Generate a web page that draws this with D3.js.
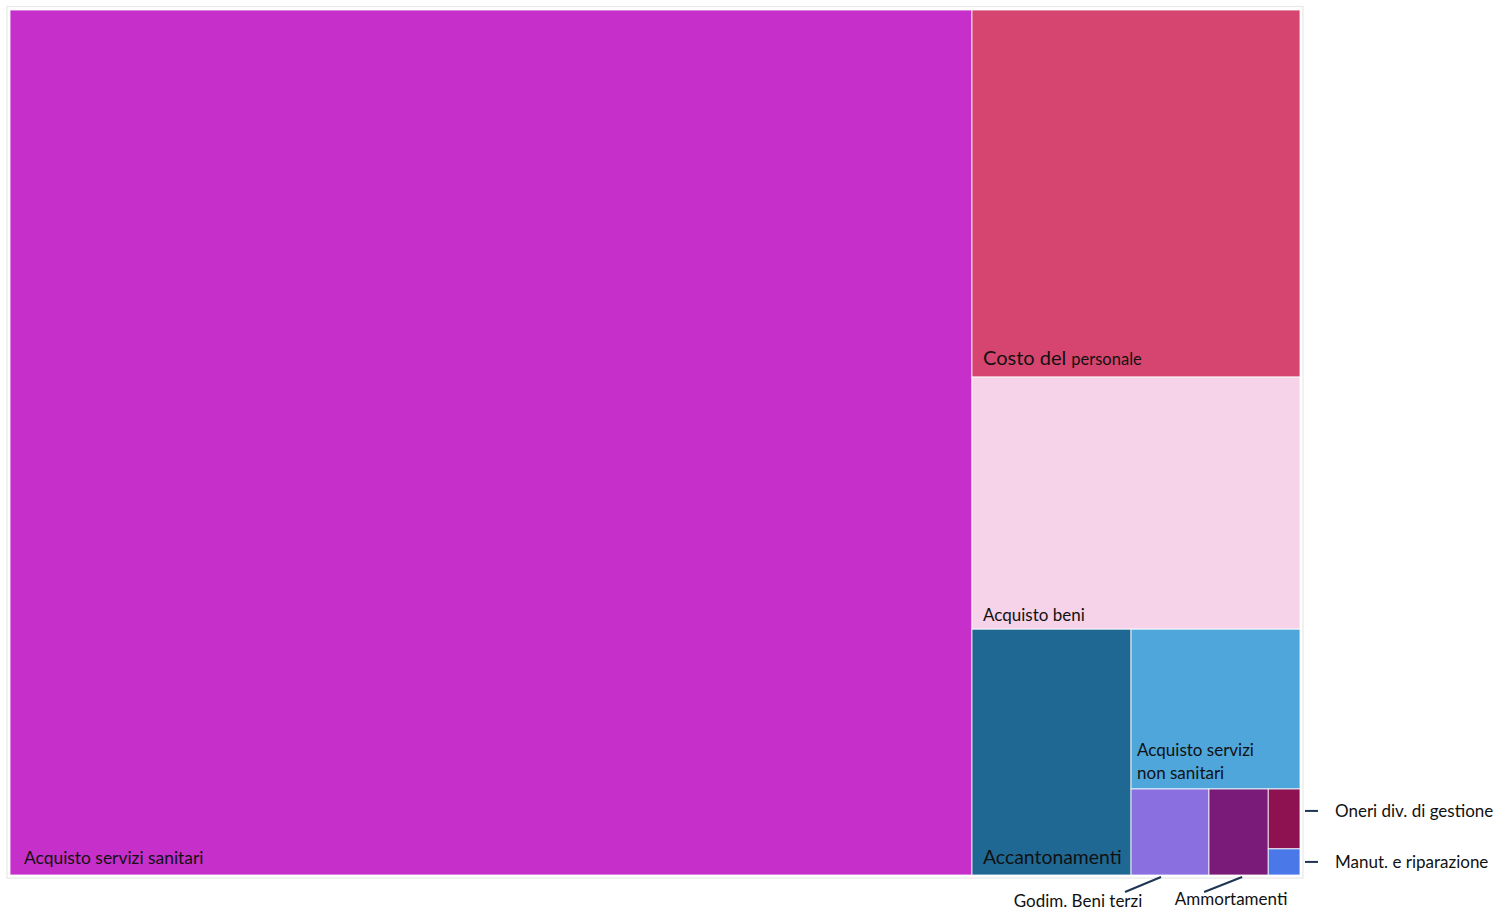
<!DOCTYPE html>
<html><head><meta charset="utf-8">
<script src="https://cdn.jsdelivr.net/npm/d3@7"></script>
<style>body{margin:0;background:#fff;} svg{display:block;} text{font-family:"Gill Sans","Gill Sans MT",Lato,"Open Sans",sans-serif;fill:#111;}</style>
</head><body>
<svg id="c" width="1502" height="911"></svg>
<script>
const categories = ["Acquisto servizi sanitari","Costo del personale","Acquisto beni","Accantonamenti","Acquisto servizi non sanitari","Godim. Beni terzi","Ammortamenti","Oneri div. di gestione","Manut. e riparazione"];
const values = [832.1, 120.4, 82.7, 39.1, 27.0, 6.7, 5.1, 1.9, 0.83];
const colors = ["#c62fca","#d6456f","#f6d3e8","#1f6894","#4ea6db","#8a6fe0","#7a1b79","#8e1252","#4a78e8"];

const svg = d3.select("#c");
const X0 = 10, Y0 = 10, W = 1290, H = 865;

svg.append("rect").attr("x",7).attr("y",6.5).attr("width",1296).attr("height",871.5)
  .attr("fill","none").attr("stroke","#e8e8e8").attr("stroke-width",1.2);

const root = d3.hierarchy({children: categories.map((c,i)=>({name:c, value:values[i], color:colors[i], idx:i}))})
  .sum(d=>d.value||0);
d3.treemap().tile(d3.treemapSquarify.ratio(1)).size([W,H]).round(false)(root);

const g = svg.append("g").attr("transform",`translate(${X0},${Y0})`);
const leaves = root.leaves();
g.selectAll("rect.t").data(leaves).join("rect").attr("class","t")
  .attr("x",d=>d.x0).attr("y",d=>d.y0)
  .attr("width",d=>d.x1-d.x0).attr("height",d=>d.y1-d.y0)
  .attr("fill",d=>d.data.color).attr("stroke","#fff").attr("stroke-opacity",0.8).attr("stroke-width",1);

function leaf(i){return leaves.find(l=>l.data.idx===i);}

// inside labels
const L0 = leaf(0);
g.append("text").attr("x",L0.x0+14).attr("y",L0.y1-11).attr("font-size",17.4).text("Acquisto servizi sanitari");
const L1 = leaf(1);
const t1 = g.append("text").attr("x",L1.x0+11).attr("y",L1.y1-12);
t1.append("tspan").attr("font-size",20).text("Costo del ");
t1.append("tspan").attr("font-size",16.5).text("personale");
const L2 = leaf(2);
g.append("text").attr("x",L2.x0+11).attr("y",L2.y1-8.5).attr("font-size",17).text("Acquisto beni");
const L3 = leaf(3);
g.append("text").attr("x",L3.x0+11).attr("y",L3.y1-11).attr("font-size",19.4).text("Accantonamenti");
const L4 = leaf(4);
const t4 = g.append("text").attr("font-size",17);
t4.append("tspan").attr("x",L4.x0+6).attr("y",L4.y1-33).text("Acquisto servizi");
t4.append("tspan").attr("x",L4.x0+6).attr("y",L4.y1-10).text("non sanitari");

// outside labels
const lineCol = "#1e3554";
const L7 = leaf(7), L8 = leaf(8);
[[L7,"Oneri div. di gestione",-8],[L8,"Manut. e riparazione",0]].forEach(([l,txt,dy])=>{
  const cy = (l.y0+l.y1)/2 + dy;
  g.append("line").attr("x1",l.x1+5).attr("x2",l.x1+18).attr("y1",cy).attr("y2",cy)
    .attr("stroke",lineCol).attr("stroke-width",2);
  g.append("text").attr("x",l.x1+35).attr("y",cy+6).attr("font-size",17).text(txt);
});
const L5 = leaf(5), L6 = leaf(6);
[[L5,"Godim. Beni terzi",-9,-45,-92,32],[L6,"Ammortamenti",3.5,-34.5,-7.5,30]].forEach(([l,txt,a,b,tx,ty])=>{
  const cx = (l.x0+l.x1)/2;
  g.append("line").attr("x1",cx+a).attr("y1",l.y1+2).attr("x2",cx+b).attr("y2",l.y1+17)
    .attr("stroke",lineCol).attr("stroke-width",2);
  g.append("text").attr("x",cx+tx).attr("y",l.y1+ty).attr("text-anchor","middle").attr("font-size",17).text(txt);
});
</script>
</body></html>
